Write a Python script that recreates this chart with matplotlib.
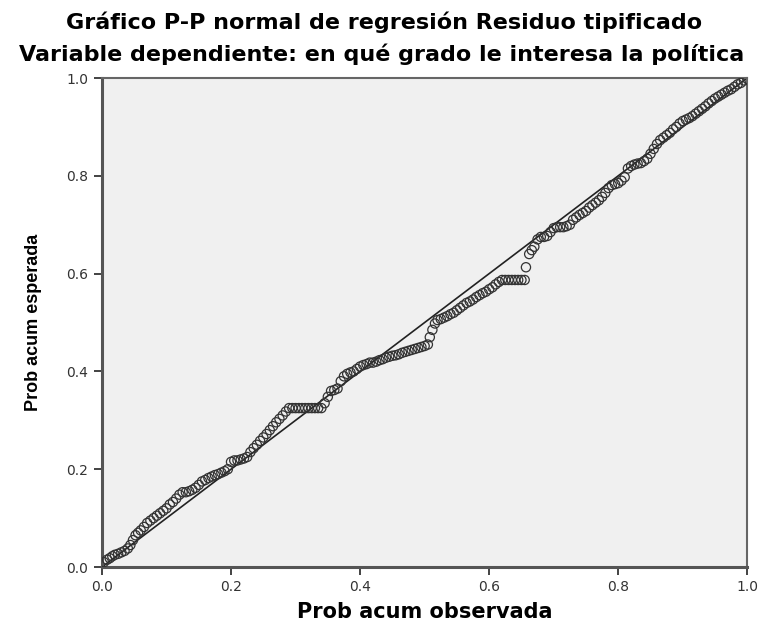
import matplotlib
matplotlib.use('Agg')
import matplotlib.pyplot as plt
import numpy as np

# Prob acum observada / esperada
observada = [
    0.003, 0.008, 0.012, 0.016, 0.020, 0.025, 0.030, 0.035, 0.040, 0.044,
    0.048, 0.052, 0.056, 0.060, 0.065, 0.070, 0.075, 0.080, 0.085, 0.090,
    0.095, 0.100, 0.105, 0.110, 0.115, 0.120, 0.125, 0.130, 0.135, 0.140,
    0.145, 0.150, 0.155, 0.160, 0.165, 0.170, 0.175, 0.180, 0.185, 0.190,
    0.195, 0.200, 0.205, 0.210, 0.215, 0.220, 0.225, 0.230, 0.235, 0.240,
    0.245, 0.250, 0.255, 0.260, 0.265, 0.270, 0.275, 0.280, 0.285, 0.290,
    0.295, 0.300, 0.305, 0.310, 0.315, 0.320, 0.325, 0.330, 0.335, 0.340,
    0.345, 0.350, 0.355, 0.360, 0.365, 0.370, 0.375, 0.380, 0.385, 0.390,
    0.395, 0.400, 0.405, 0.410, 0.415, 0.420, 0.425, 0.430, 0.435, 0.440,
    0.445, 0.450, 0.455, 0.460, 0.465, 0.470, 0.475, 0.480, 0.485, 0.490,
    0.495, 0.500, 0.505, 0.508, 0.512, 0.516, 0.520, 0.525, 0.530, 0.535,
    0.540, 0.545, 0.550, 0.555, 0.560, 0.565, 0.570, 0.575, 0.580, 0.585,
    0.590, 0.595, 0.600, 0.605, 0.610, 0.615, 0.620, 0.625, 0.630, 0.635,
    0.640, 0.645, 0.650, 0.655, 0.657, 0.662, 0.666, 0.670, 0.675, 0.680,
    0.685, 0.690, 0.695, 0.700, 0.705, 0.710, 0.715, 0.720, 0.725, 0.730,
    0.735, 0.740, 0.745, 0.750, 0.755, 0.760, 0.765, 0.770, 0.775, 0.780,
    0.785, 0.790, 0.795, 0.800, 0.805, 0.810, 0.815, 0.820, 0.825, 0.830,
    0.835, 0.840, 0.845, 0.850, 0.855, 0.860, 0.865, 0.870, 0.875, 0.880,
    0.885, 0.890, 0.895, 0.900, 0.905, 0.910, 0.915, 0.920, 0.925, 0.930,
    0.935, 0.940, 0.945, 0.950, 0.955, 0.960, 0.965, 0.970, 0.975, 0.980,
    0.985, 0.990, 0.995, 1.000,
]
esperada = [
    0.010, 0.015, 0.018, 0.022, 0.025, 0.027, 0.030, 0.033, 0.038, 0.045,
    0.055, 0.065, 0.070, 0.075, 0.082, 0.090, 0.095, 0.100, 0.105, 0.110,
    0.115, 0.120, 0.128, 0.133, 0.140, 0.148, 0.153, 0.153, 0.155, 0.158,
    0.162, 0.168, 0.175, 0.178, 0.182, 0.185, 0.188, 0.190, 0.193, 0.196,
    0.200, 0.215, 0.218, 0.218, 0.220, 0.222, 0.225, 0.235, 0.243, 0.250,
    0.258, 0.265, 0.272, 0.280, 0.288, 0.296, 0.303, 0.310, 0.318, 0.325,
    0.325, 0.325, 0.325, 0.325, 0.325, 0.325, 0.325, 0.325, 0.325, 0.325,
    0.335, 0.348, 0.360, 0.362, 0.365, 0.380, 0.390, 0.395, 0.398, 0.400,
    0.405, 0.410, 0.413, 0.415, 0.418, 0.418, 0.420, 0.423, 0.425, 0.428,
    0.430, 0.432, 0.433, 0.435, 0.438, 0.440, 0.442, 0.444, 0.446, 0.448,
    0.450, 0.452, 0.455, 0.470, 0.485, 0.498, 0.505, 0.507, 0.510, 0.513,
    0.517, 0.520, 0.525, 0.530, 0.535, 0.540, 0.543, 0.547, 0.552, 0.556,
    0.560, 0.563, 0.568, 0.572, 0.578, 0.583, 0.587, 0.587, 0.587, 0.587,
    0.587, 0.587, 0.587, 0.587, 0.613, 0.640, 0.648, 0.655, 0.670, 0.675,
    0.675, 0.677, 0.685, 0.693, 0.695, 0.695, 0.695, 0.697, 0.700, 0.710,
    0.715, 0.720, 0.724, 0.728, 0.735, 0.740, 0.745, 0.750, 0.757, 0.765,
    0.775, 0.781, 0.783, 0.785, 0.790, 0.797, 0.815, 0.820, 0.823, 0.825,
    0.826, 0.830, 0.835, 0.845, 0.855, 0.865, 0.873, 0.878, 0.883, 0.888,
    0.895, 0.900, 0.907, 0.912, 0.915, 0.918, 0.922, 0.927, 0.932, 0.937,
    0.942, 0.948, 0.953, 0.958, 0.962, 0.966, 0.970, 0.974, 0.977, 0.982,
    0.987, 0.990, 0.995, 0.998,
]
ticks = [0.0, 0.2, 0.4, 0.6, 0.8, 1.0]
tick_labels = ['0.0', '0.2', '0.4', '0.6', '0.8', '1.0']

plt.rcParams['font.family'] = ['DejaVu Sans']

fig = plt.figure(figsize=(7.61, 6.24), dpi=100)
ax = fig.add_axes([0.134, 0.0913, 0.848, 0.7837])
ax.set_facecolor('#f0f0f0')

ax.plot([0, 1], [0, 1], color='#222222', lw=1.2, zorder=2)
ax.scatter(observada, esperada, s=44, facecolors='none', edgecolors='#333333',
           linewidths=0.9, zorder=3)

ax.set_xlim(0, 1)
ax.set_ylim(0, 1)
ax.set_xticks(ticks)
ax.set_xticklabels(tick_labels)
ax.set_yticks(ticks)
ax.set_yticklabels(tick_labels)
ax.tick_params(direction='out', length=6, width=1.2, color='#222222',
               labelsize=10, labelcolor='#333333')
ax.tick_params(axis='x', pad=3)
ax.tick_params(axis='y', pad=4)

for side in ['left', 'bottom']:
    ax.spines[side].set_linewidth(2.2)
    ax.spines[side].set_color('#555555')
for side in ['top', 'right']:
    ax.spines[side].set_linewidth(1.5)
    ax.spines[side].set_color('#666666')

ax.set_xlabel('Prob acum observada', fontsize=15, fontweight='bold', labelpad=6)
ax.set_ylabel('Prob acum esperada', fontsize=13, fontweight='bold', labelpad=17,
              family=['Liberation Sans', 'DejaVu Sans'])

fig.text(0.505, 0.965, 'Gráfico P-P normal de regresión Residuo tipificado',
         ha='center', va='center', fontsize=16, fontweight='bold')
fig.text(0.502, 0.913, 'Variable dependiente: en qué grado le interesa la política',
         ha='center', va='center', fontsize=16, fontweight='bold')

fig.savefig('out.png', dpi=100)
